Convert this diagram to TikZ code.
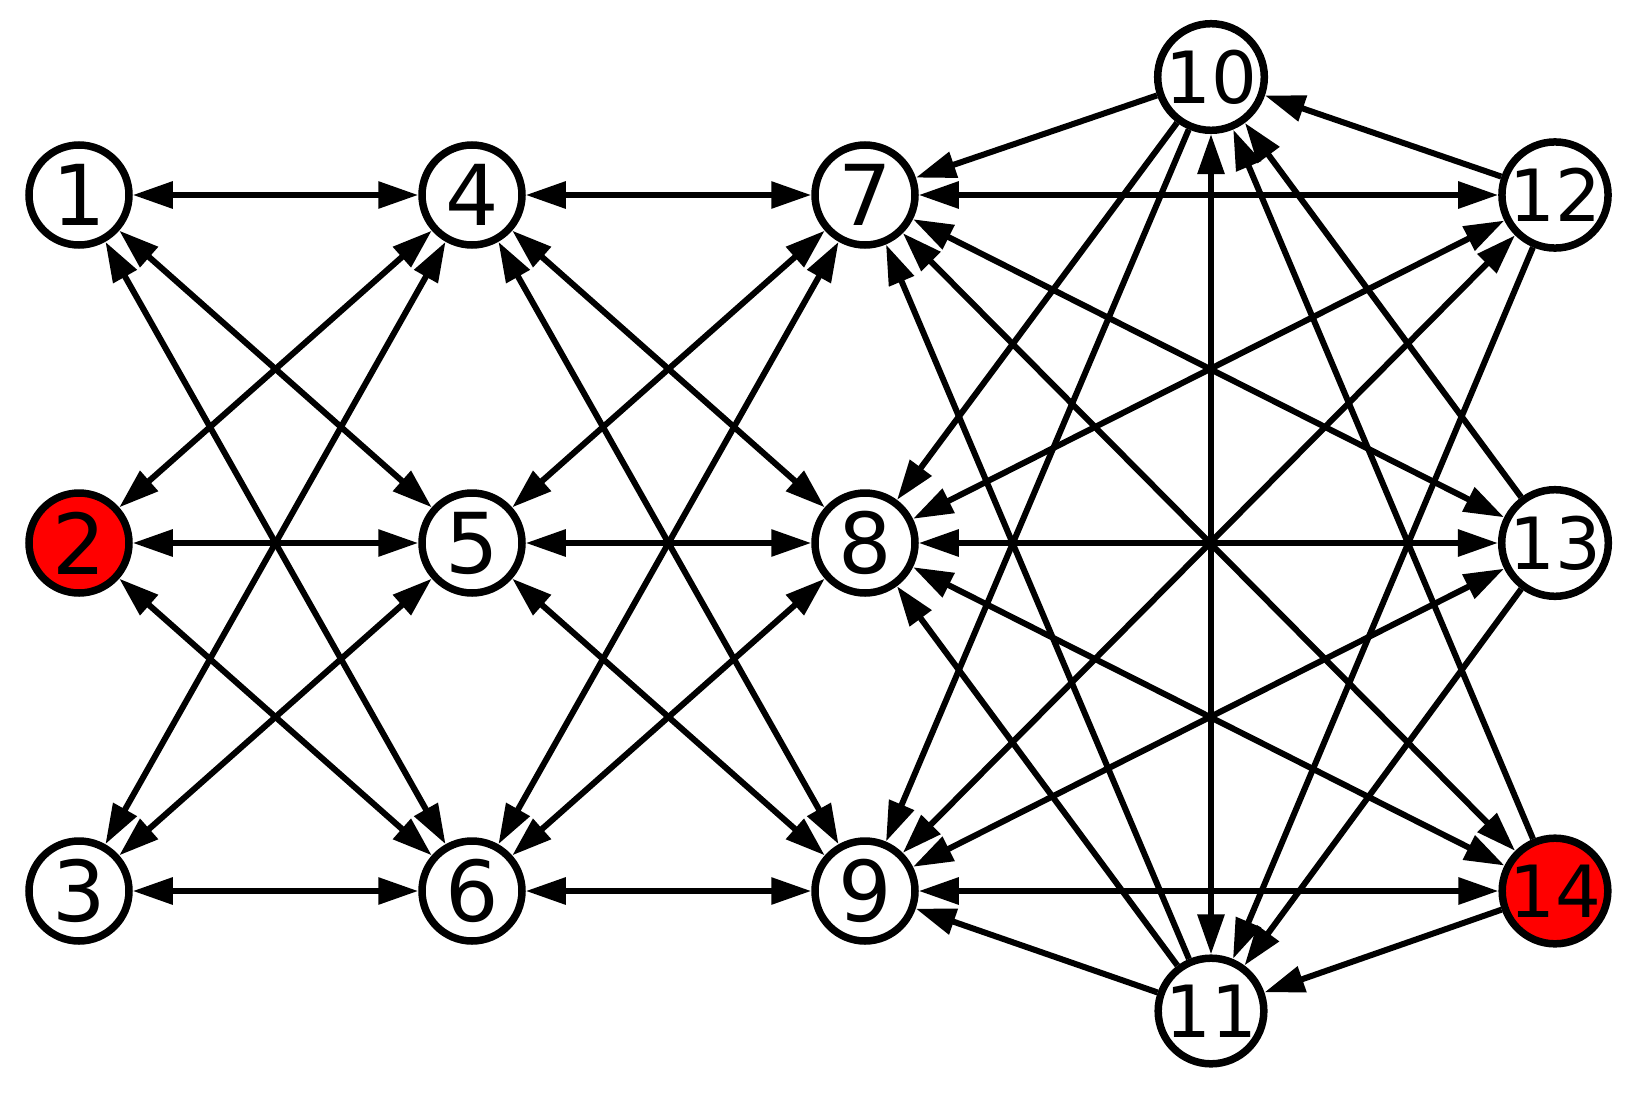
\documentclass[tikz,border=0pt]{standalone}
\usepackage{fontspec}
\setmainfont{DejaVu Sans}
\usetikzlibrary{arrows.meta}
\begin{document}
\begin{tikzpicture}[x=1pt,y=-1pt,
  vtx/.style={circle,draw=black,line width=7.5pt,fill=white,minimum size=100pt,inner sep=0pt,font=\fontsize{84}{84}\selectfont},
  vtxb/.style={vtx,font=\fontsize{72}{72}\selectfont},
  hot/.style={fill=red},
  link/.style={line width=6pt,-{Triangle[length=40pt,width=26pt]}},
  both/.style={line width=6pt,{Triangle[length=40pt,width=26pt]}-{Triangle[length=40pt,width=26pt]}}]
\useasboundingbox (0,0) rectangle (1648,1108);
\node[vtx] (n1) at (79,195) {1};
\node[vtx,hot] (n2) at (79,543) {2};
\node[vtx] (n3) at (79,891) {3};
\node[vtx] (n4) at (472,195) {4};
\node[vtx] (n5) at (472,543) {5};
\node[vtx] (n6) at (472,891) {6};
\node[vtx] (n7) at (865,195) {7};
\node[vtx] (n8) at (865,543) {8};
\node[vtx] (n9) at (865,891) {9};
\node[vtxb] (n10) at (1211,77) {10};
\node[vtxb] (n11) at (1211,1011) {11};
\node[vtxb] (n12) at (1555,195) {12};
\node[vtxb] (n13) at (1555,543) {13};
\node[vtxb,hot] (n14) at (1555,891) {14};
\foreach \a/\b in {1/4,1/5,1/6,2/4,2/5,2/6,3/4,3/5,3/6,4/7,4/8,4/9,5/7,5/8,5/9,6/7,6/8,6/9,7/12,7/13,7/14,8/12,8/13,8/14,9/12,9/13,9/14,10/11}
  \draw[both] (n\a) -- (n\b);
\foreach \a/\b in {10/7,10/8,10/9,11/7,11/8,11/9,12/10,13/10,14/10,12/11,13/11,14/11}
  \draw[link] (n\a) -- (n\b);
\end{tikzpicture}
\end{document}
